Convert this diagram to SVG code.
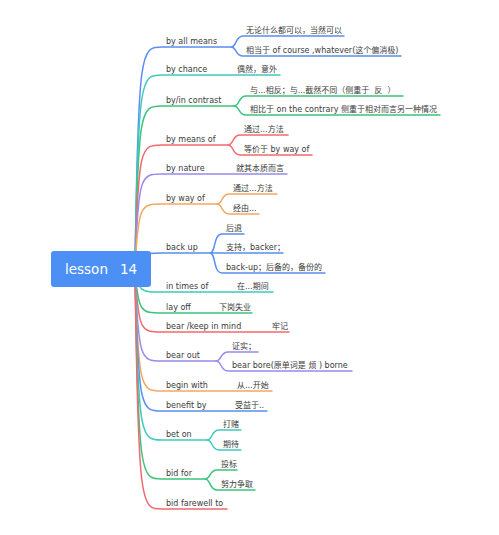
<svg xmlns="http://www.w3.org/2000/svg" width="499" height="535" viewBox="0 0 499 535">
<style>
text{font-family:"DejaVu Sans","Noto Sans CJK SC",sans-serif;font-size:8px;fill:#3a3a3a}
.c path{fill:none;stroke-width:1.5;stroke-linecap:round}
.b{stroke:#5a8ef0}.t{stroke:#3fcabd}.g{stroke:#3cc47c}.r{stroke:#f06a70}.p{stroke:#978af0}.o{stroke:#f5a660}
.root text{font-size:13.5px;fill:#fff}
</style>
<rect width="499" height="535" fill="#fff"/>
<g class="c" id="connectors">
<path class="b" d="M135 269C138 47 141 47 162 47L231 47"/>
<path class="b" d="M231 47C237 47 235 36 243 36L344 36M231 47C237 47 235 56 243 56L401 56"/>
<path class="t" d="M135 269C138 75 141 75 162 75L280 75"/>
<path class="g" d="M135 269C138 106 141 106 162 106L234 106"/>
<path class="g" d="M234 106C240 106 238 96 246 96L403 96M234 106C240 106 238 115 246 115L440 115"/>
<path class="r" d="M135 269C138 145 141 145 162 145L228 145"/>
<path class="r" d="M228 145C234 145 232 135 240 135L288 135M228 145C234 145 232 155 240 155L312 155"/>
<path class="p" d="M135 269C138 174 141 174 162 174L287 174"/>
<path class="o" d="M135 269C138 204 141 204 162 204L217 204"/>
<path class="o" d="M217 204C223 204 221 194 229 194L277 194M217 204C223 204 221 214 229 214L259 214"/>
<path class="b" d="M135 269C138 253 141 253 162 253L210 253"/>
<path class="b" d="M210 253C216 253 213 234 222 234L244 234M210 253L283 253M210 253C216 253 213 273 222 273L325 273"/>
<path class="t" d="M135 269C138 292 141 292 162 292L273 292"/>
<path class="g" d="M135 269C138 313 141 313 162 313L252 313"/>
<path class="r" d="M135 269C138 332 141 332 162 332L289 332"/>
<path class="p" d="M135 269C138 361 141 361 162 361L216 361"/>
<path class="p" d="M216 361C222 361 220 352 228 352L258 352M216 361C222 361 220 371 228 371L352 371"/>
<path class="o" d="M135 269C138 391 141 391 162 391L272 391"/>
<path class="b" d="M135 269C138 411 141 411 162 411L267 411"/>
<path class="t" d="M135 269C138 440 141 440 162 440L207 440"/>
<path class="t" d="M207 440C213 440 211 430 219 430L241 430M207 440C213 440 211 450 219 450L241 450"/>
<path class="g" d="M135 269C138 479 141 479 162 479L205 479"/>
<path class="g" d="M205 479C211 479 209 470 217 470L237 470M205 479C211 479 209 490 217 490L255 490"/>
<path class="r" d="M135 269C138 509 141 509 162 509L227 509"/>
</g>
<g class="root" id="root">
<rect x="51" y="251" width="100" height="36" rx="3" fill="#4d90f5"/>
<text x="65" y="274">lesson</text><text x="120" y="274">14</text>
</g>
<g id="n1"><text x="166" y="44">by all means</text><text x="246" y="33">无论什么都可以，当然可以</text><text x="246" y="53">相当于 of course ,whatever(这个偏消极)</text></g>
<g id="n2"><text x="166" y="72">by chance</text><text x="237" y="72">偶然，意外</text></g>
<g id="n3"><text x="166" y="103">by/in contrast</text><text x="250" y="93" xml:space="preserve">与...相反；与...截然不同（侧重于  反  ）</text><text x="250" y="112">相比于 on the contrary 侧重于相对而言另一种情况</text></g>
<g id="n4"><text x="166" y="142">by means of</text><text x="244" y="132">通过...方法</text><text x="244" y="152">等价于 by way of</text></g>
<g id="n5"><text x="166" y="171">by nature</text><text x="236" y="171">就其本质而言</text></g>
<g id="n6"><text x="166" y="201">by way of</text><text x="233" y="191">通过...方法</text><text x="233" y="211">经由...</text></g>
<g id="n7"><text x="166" y="250">back up</text><text x="226" y="231">后退</text><text x="226" y="250">支持，backer；</text><text x="226" y="270">back-up；后备的，备份的</text></g>
<g id="n8"><text x="166" y="289">in times of</text><text x="237" y="289">在...期间</text></g>
<g id="n9"><text x="166" y="310">lay off</text><text x="219" y="310">下岗失业</text></g>
<g id="n10"><text x="166" y="329">bear /keep in mind</text><text x="272" y="329">牢记</text></g>
<g id="n11"><text x="166" y="358">bear out</text><text x="232" y="349">证实；</text><text x="232" y="368">bear bore(原单词是 烦 ) borne</text></g>
<g id="n12"><text x="166" y="388">begin with</text><text x="237" y="388">从...开始</text></g>
<g id="n13"><text x="166" y="408">benefit by</text><text x="235" y="408">受益于..</text></g>
<g id="n14"><text x="166" y="437">bet on</text><text x="223" y="427">打赌</text><text x="223" y="447">期待</text></g>
<g id="n15"><text x="166" y="476">bid for</text><text x="221" y="467">投标</text><text x="221" y="487">努力争取</text></g>
<g id="n16"><text x="166" y="506">bid farewell to</text></g>
</svg>
